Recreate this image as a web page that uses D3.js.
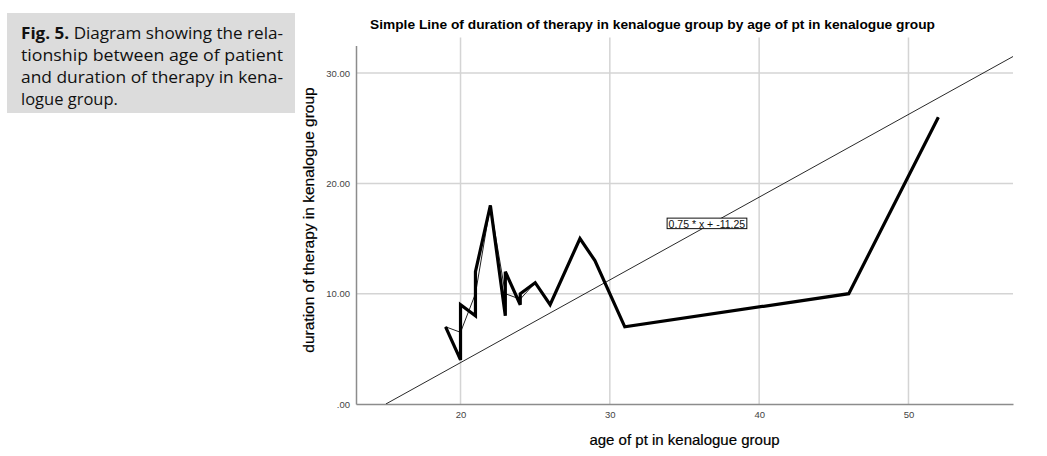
<!DOCTYPE html>
<html><head><meta charset="utf-8">
<script src="https://cdn.jsdelivr.net/npm/d3@7"></script>
<style>body{margin:0;background:#fff;}svg{display:block;}</style>
</head><body>
<svg id="c" width="1047" height="456"></svg>
<script>
// Data
const ages = [19,20,20,21,21,22,23,23,24,24,25,26,28,29,31,46,52];
const durations = [7,4,9,8,12,18,8,12,9,10,11,9,15,13,7,10,26];
const meanAges = [19,20,21,22,23,24,25,26,28,29,31,46,52];
const meanDurations = [7,6.5,10,18,10,9.5,11,9,15,13,7,10,26];
const xTicks = [20,30,40,50];
const yTicks = [0,10,20,30];
const fitSlope = 0.75, fitIntercept = -11.25;
const fitLabel = "0.75 * x + -11.25";
const title = "Simple Line of duration of therapy in kenalogue group by age of pt in kenalogue group";
const xLabel = "age of pt in kenalogue group";
const yLabel = "duration of therapy in kenalogue group";
const captionBold = "Fig. 5.";
const captionLines = [" Diagram showing the rela-", "tionship between age of patient", "and duration of therapy in kena-", "logue group."];

const svg = d3.select("#c");

// Caption box
svg.append("rect").attr("x",7).attr("y",13).attr("width",288).attr("height",100).attr("fill","#dcdcdc");
const capFont = "'Open Sans', sans-serif";
const capY = [39, 61, 83, 105];
captionLines.forEach((ln,i)=>{
  const t = svg.append("text").attr("x",21).attr("y",capY[i])
    .attr("font-family",capFont).attr("font-size",16.5).attr("fill","#111");
  if(i===0){
    t.append("tspan").attr("font-weight","bold").text(captionBold);
    t.append("tspan").text(ln);
  } else t.text(ln);
  if(i<3) t.attr("textLength",262).attr("lengthAdjust","spacingAndGlyphs");
});

// Scales
const yTop = 32.5;
const x = d3.scaleLinear().domain([13,57]).range([356,1013]);
const y = d3.scaleLinear().domain([0,yTop]).range([404,45.5]);

// Gridlines
const g = svg.append("g");
g.selectAll(".hg").data(yTicks.filter(d=>d>0)).enter().append("line")
  .attr("x1",x(13)).attr("x2",x(57)).attr("y1",d=>y(d)).attr("y2",d=>y(d))
  .attr("stroke","#d4d4d4").attr("stroke-width",1.5);
g.selectAll(".vg").data(xTicks).enter().append("line")
  .attr("x1",d=>x(d)).attr("x2",d=>x(d)).attr("y1",y(yTop)-8).attr("y2",y(0))
  .attr("stroke","#d4d4d4").attr("stroke-width",1.5);

// Axes
const xAxis = d3.axisBottom(x).tickValues(xTicks).tickSize(0).tickPadding(7).tickFormat(d3.format("d"));
const yAxis = d3.axisLeft(y).tickValues(yTicks).tickSize(0).tickPadding(6).tickFormat(d=> d===0 ? ".00" : d3.format(".2f")(d));
const xa = svg.append("g").attr("transform",`translate(0,${y(0)})`).call(xAxis);
const ya = svg.append("g").attr("transform",`translate(${x(13)},0)`).call(yAxis);
[xa,ya].forEach(a=>{
  a.select(".domain").attr("stroke","#8c8c8c").attr("stroke-width",1.5);
  a.selectAll("text").attr("font-family","'Liberation Sans', Arial, sans-serif").attr("font-size",9.5).attr("fill","#444");
});

// Clip
svg.append("clipPath").attr("id","clip").append("rect")
  .attr("x",x(13)).attr("y",y(yTop)-20).attr("width",x(57)-x(13)).attr("height",y(0)-y(yTop)+20);

// Fit line
const fitX0 = -fitIntercept/fitSlope;
const fitPts = [fitX0, 57].map(a=>[a, fitSlope*a+fitIntercept]);
svg.append("path").attr("clip-path","url(#clip)")
  .attr("d", d3.line().x(d=>x(d[0])).y(d=>y(d[1]))(fitPts))
  .attr("fill","none").attr("stroke","#111").attr("stroke-width",0.9);

// Mean line (thin)
const line = d3.line().x(d=>x(d[0])).y(d=>y(d[1]));
svg.append("path").attr("d", line(meanAges.map((a,i)=>[a,meanDurations[i]])))
  .attr("fill","none").attr("stroke","#222").attr("stroke-width",1);

// Data line (thick)
svg.append("path").attr("d", line(ages.map((a,i)=>[a,durations[i]])))
  .attr("fill","none").attr("stroke","#000").attr("stroke-width",3.2).attr("stroke-linejoin","miter").attr("stroke-miterlimit",4);

// Fit label
const lx = 36.5;
const lg = svg.append("g");
const lt = lg.append("text").attr("x",x(lx)).attr("y",y(fitSlope*lx+fitIntercept)+1.5)
  .attr("text-anchor","middle").attr("font-family","'Liberation Sans', Arial, sans-serif")
  .attr("font-size",10.5).attr("fill","#111").text(fitLabel);
const bb = lt.node().getBBox();
lg.insert("rect","text").attr("x",bb.x-1.5).attr("y",bb.y+0.5).attr("width",bb.width+3).attr("height",bb.height-1.5)
  .attr("fill","#fff").attr("stroke","#111").attr("stroke-width",1);

// Title
svg.append("text").attr("x",370).attr("y",29).attr("font-family","'Liberation Sans', Arial, sans-serif")
  .attr("font-size",13).attr("font-weight","bold").attr("fill","#000")
  .attr("textLength",565).attr("lengthAdjust","spacingAndGlyphs").text(title);

// Axis labels
svg.append("text").attr("x",(x(13)+x(57))/2).attr("y",445).attr("text-anchor","middle")
  .attr("font-family","'Liberation Sans', Arial, sans-serif").attr("font-size",15).attr("fill","#000")
  .attr("stroke","#000").attr("stroke-width",0.2).text(xLabel);
svg.append("text").attr("transform",`translate(314,220) rotate(-90)`).attr("text-anchor","middle")
  .attr("font-family","'Liberation Sans', Arial, sans-serif").attr("font-size",15.5).attr("fill","#000")
  .attr("stroke","#000").attr("stroke-width",0.2).text(yLabel);
</script>
</body></html>
